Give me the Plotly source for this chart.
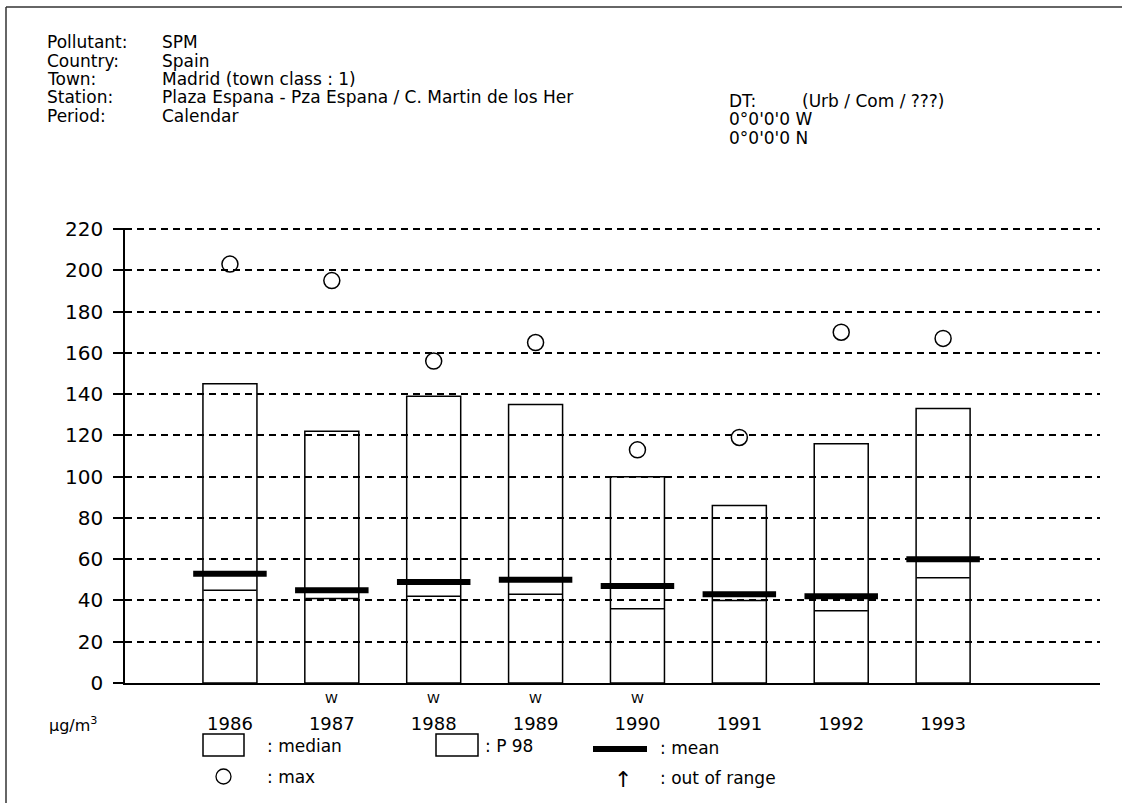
import plotly.graph_objects as go

# values
years = [1986, 1987, 1988, 1989, 1990, 1991, 1992, 1993]
p98 = [145, 122, 139, 135, 100, 86, 116, 133]
median = [45, 41, 42, 43, 36, 40, 35, 51]
mean = [53, 45, 49, 50, 47, 43, 42, 60]
maxima = [203, 195, 156, 165, 113, 119, 170, 167]
flags = ["", "W", "W", "W", "W", "", "", ""]

header_labels = ["Pollutant:", "Country:", "Town:", "Station:", "Period:"]
header_values = ["SPM", "Spain", "Madrid (town class : 1)",
                 "Plaza Espana - Pza Espana / C. Martin de los Her", "Calendar"]
site_lines = ["0°0'0'0 W", "0°0'0'0 N"]
legend_labels = [": median", ": P 98", ": mean", ": max", ": out of range"]

W, H = 1129, 803
L, R, T, B = 125, 29, 228, 120
FONT = "DejaVu Sans"


def px(x):
    return (x - L) / (W - L - R)


def py(y):
    return (H - B - y) / (H - T - B)


fig = go.Figure()

fig.add_trace(go.Bar(
    x=years, y=p98, width=0.53,
    marker=dict(color="rgba(0,0,0,0)", line=dict(color="black", width=1.5)),
    showlegend=False, name="P 98"))

# line-ew markers are drawn 1.41 x size long
fig.add_trace(go.Scatter(
    x=years, y=median, mode="markers", showlegend=False, name="median",
    marker=dict(symbol="line-ew", size=38, color="black",
                line=dict(color="black", width=1.5))))

fig.add_trace(go.Scatter(
    x=years, y=mean, mode="markers", showlegend=False, name="mean",
    marker=dict(symbol="line-ew", size=52.5, color="black",
                line=dict(color="black", width=6))))

fig.add_trace(go.Scatter(
    x=years, y=maxima, mode="markers", showlegend=False, name="max",
    marker=dict(symbol="circle-open", size=16, color="black",
                line=dict(color="black", width=1.5))))

ann = []
# header block
for i, (lab, val) in enumerate(zip(header_labels, header_values)):
    yy = 42 + i * 18.5
    ann.append(dict(x=px(45), y=py(yy), text=lab, xanchor="left"))
    ann.append(dict(x=px(160), y=py(yy), text=val, xanchor="left"))

ann.append(dict(x=px(727), y=py(101), text="DT:", xanchor="left"))
ann.append(dict(x=px(800), y=py(101), text="(Urb / Com / ???)", xanchor="left"))
for i, s in enumerate(site_lines):
    ann.append(dict(x=px(727), y=py(119 + i * 18.5), text=s, xanchor="left"))

# unit
ann.append(dict(x=px(47), y=py(724), text="µg/m<sup>3</sup>", xanchor="left",
                font=dict(size=16)))

# W flags above year labels
for yr, f in zip(years, flags):
    if f:
        ann.append(dict(x=yr, xref="x", y=py(698), text=f, xanchor="center",
                        font=dict(size=13)))

# legend texts
ann.append(dict(x=px(265), y=py(746), text=legend_labels[0], xanchor="left"))
ann.append(dict(x=px(483), y=py(746), text=legend_labels[1], xanchor="left"))
ann.append(dict(x=px(658), y=py(748), text=legend_labels[2], xanchor="left"))
ann.append(dict(x=px(265), y=py(777), text=legend_labels[3], xanchor="left"))
ann.append(dict(x=px(658), y=py(778), text=legend_labels[4], xanchor="left"))
ann.append(dict(x=px(623), y=py(779), text="↑", xanchor="center",
                font=dict(size=22)))

for a in ann:
    a.setdefault("xref", "paper")
    a["yref"] = "paper"
    a["yanchor"] = "middle"
    a["showarrow"] = False
    a.setdefault("font", dict(size=17))
    a["font"].setdefault("family", FONT)
    a["font"].setdefault("color", "black")

shapes = [
    # legend boxes
    dict(type="rect", x0=px(203), x1=px(244), y0=py(734), y1=py(756),
         line=dict(color="black", width=1.5)),
    dict(type="rect", x0=px(436), x1=px(478), y0=py(734), y1=py(756),
         line=dict(color="black", width=1.5)),
    # legend mean bar
    dict(type="line", x0=px(593), x1=px(647), y0=py(749), y1=py(749),
         line=dict(color="black", width=6)),
    # legend max circle
    dict(type="circle", x0=px(216), x1=px(231), y0=py(769), y1=py(784),
         line=dict(color="black", width=1.3)),
    # outer frame (left and top edges)
    dict(type="line", x0=px(6), x1=px(6), y0=py(7), y1=py(803),
         line=dict(color="#333", width=1.5)),
    dict(type="line", x0=px(6), x1=px(1122), y0=py(7), y1=py(7),
         line=dict(color="#333", width=1.5)),
]
for s in shapes:
    s["xref"] = "paper"
    s["yref"] = "paper"

fig.update_layout(
    width=W, height=H,
    margin=dict(l=L, r=R, t=T, b=B),
    paper_bgcolor="white", plot_bgcolor="white",
    font=dict(family=FONT, color="black"),
    barmode="overlay",
    annotations=ann,
    shapes=shapes,
    xaxis=dict(
        range=[1984.97, 1994.54], tickvals=years,
        ticktext=[str(y) for y in years],
        showgrid=False, zeroline=False, showline=True,
        linecolor="black", linewidth=1.5, ticks="",
        ticklabelstandoff=24, tickfont=dict(size=18, family=FONT)),
    yaxis=dict(
        range=[0, 220.5], dtick=20, tick0=0,
        showgrid=True, gridcolor="black", gridwidth=1.5, griddash="7px,5px",
        zeroline=False, showline=True, linecolor="black", linewidth=1.5,
        ticks="outside", ticklen=10, tickwidth=1.5, tickcolor="black",
        ticklabelstandoff=6, tickfont=dict(size=20, family=FONT)),
)

fig.write_html("out.html", config={"displayModeBar": False},
               post_script="document.body.style.margin='0px';")
